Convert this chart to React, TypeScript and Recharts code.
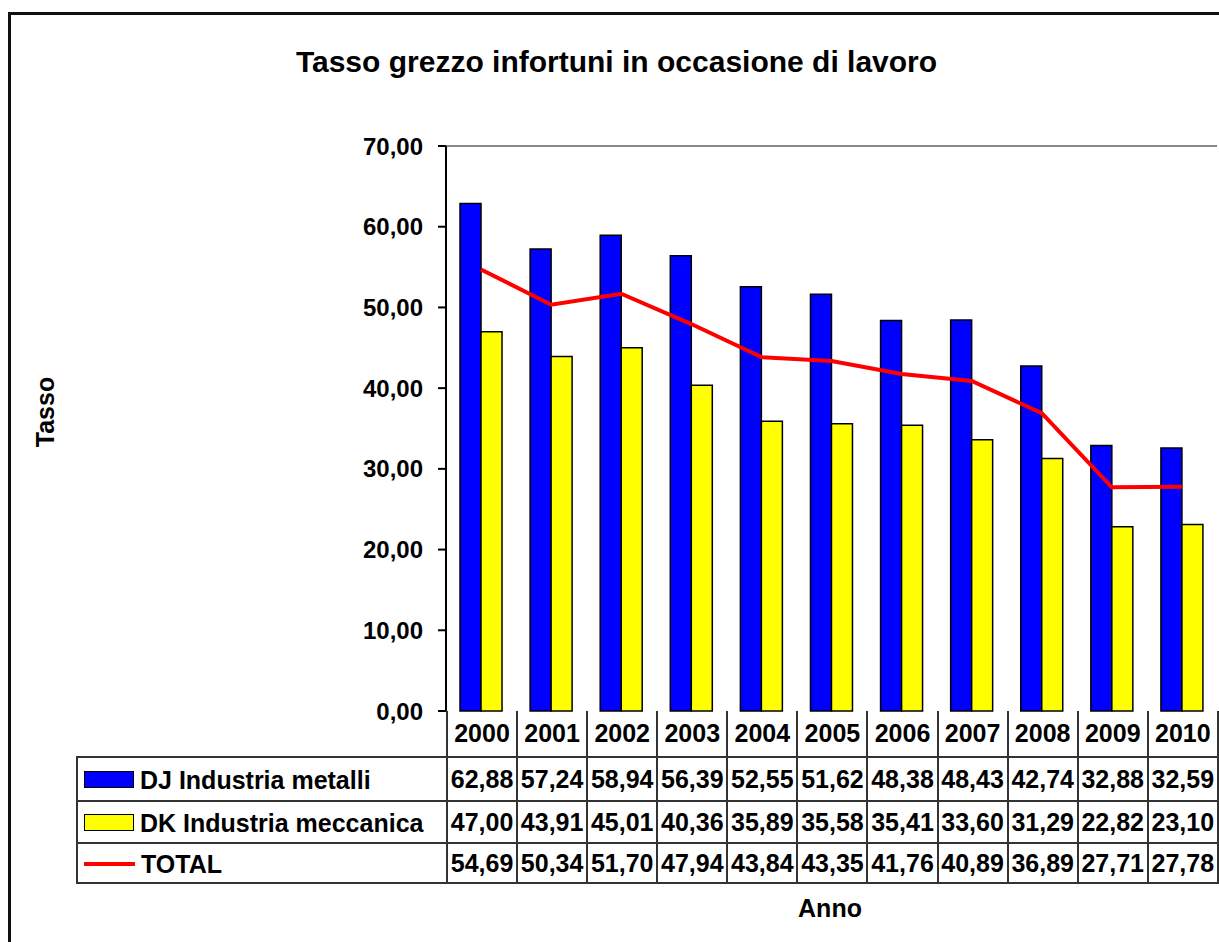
import React, { useLayoutEffect } from 'react'
import {
  ComposedChart,
  Bar,
  Line,
  XAxis,
  YAxis,
  ReferenceLine,
} from 'recharts'

const years = ['2000', '2001', '2002', '2003', '2004', '2005', '2006', '2007', '2008', '2009', '2010']
const metalli = [62.88, 57.24, 58.94, 56.39, 52.55, 51.62, 48.38, 48.43, 42.74, 32.88, 32.59]
const meccanica = [47.0, 43.91, 45.01, 40.36, 35.89, 35.58, 35.41, 33.6, 31.29, 22.82, 23.1]
const total = [54.69, 50.34, 51.7, 47.94, 43.84, 43.35, 41.76, 40.89, 36.89, 27.71, 27.78]
const yTicks = [0, 10, 20, 30, 40, 50, 60, 70]

const seriesNames = {
  metalli: 'DJ Industria metalli',
  meccanica: 'DK Industria meccanica',
  total: 'TOTAL',
}

const data = years.map((y, i) => ({
  year: y,
  metalli: metalli[i],
  meccanica: meccanica[i],
  total: total[i],
}))

const fmt = (v: number) => v.toFixed(2).replace('.', ',')

const FONT = '"Liberation Sans", Arial, sans-serif'
const W = 1211
const H = 934
const PLOT_LEFT = 438
const PLOT_RIGHT = 1209
const PLOT_TOP = 138
const PLOT_BOTTOM = 703
const COL = (PLOT_RIGHT - PLOT_LEFT) / years.length
const LEGEND_LEFT = 68
const LINE = '2px solid #333'

const cellStyle: React.CSSProperties = {
  border: LINE,
  padding: 0,
  textAlign: 'center',
  whiteSpace: 'nowrap',
  overflow: 'hidden',
}

function Swatch({ kind }: { kind: string }) {
  if (kind === 'total') {
    return (
      <span
        style={{
          display: 'inline-block',
          width: 51,
          height: 4,
          background: '#ff0000',
          verticalAlign: 'middle',
          marginRight: 6,
        }}
      />
    )
  }
  return (
    <span
      style={{
        display: 'inline-block',
        width: 48,
        height: 15,
        background: kind === 'metalli' ? '#0000ff' : '#ffff00',
        border: '1.5px solid #000',
        verticalAlign: 'middle',
        marginRight: 6,
      }}
    />
  )
}

export default function App() {
  // body margin moved onto the wrapper so the chart can use the full window width
  useLayoutEffect(() => {
    document.body.style.margin = '0'
  }, [])

  const rows = [
    { key: 'metalli', values: metalli, h: 44 },
    { key: 'meccanica', values: meccanica, h: 42 },
    { key: 'total', values: total, h: 40 },
  ]
  return (
    <div style={{ width: W + 8, height: H + 8, paddingTop: 8, paddingLeft: 8, boxSizing: 'border-box' }}>
      <div
        style={{
          position: 'relative',
          width: W,
          height: H,
          overflow: 'hidden',
          fontFamily: FONT,
          color: '#000',
        }}
      >
        <div
          style={{
            position: 'absolute',
            left: 0,
            top: 4,
            width: W,
            height: H - 4,
            borderLeft: '3px solid #111',
            borderTop: '3px solid #111',
            boxSizing: 'border-box',
          }}
        />
        <div
          style={{
            position: 'absolute',
            left: 6,
            top: 39,
            width: W - 6,
            textAlign: 'center',
            fontSize: 30,
            fontWeight: 'bold',
            lineHeight: 1,
            whiteSpace: 'nowrap',
          }}
        >
          Tasso grezzo infortuni in occasione di lavoro
        </div>
        <div
          style={{
            position: 'absolute',
            left: 37,
            top: 404,
            transform: 'translate(-50%, -50%) rotate(-90deg)',
            fontSize: 25,
            fontWeight: 'bold',
            lineHeight: 1,
            whiteSpace: 'nowrap',
          }}
        >
          Tasso
        </div>
        <div
          style={{
            position: 'absolute',
            left: 822,
            top: 900,
            transform: 'translate(-50%, -50%)',
            fontSize: 25,
            fontWeight: 'bold',
            lineHeight: 1,
            whiteSpace: 'nowrap',
          }}
        >
          Anno
        </div>

        <div style={{ position: 'absolute', left: 0, top: 0 }}>
          <ComposedChart
            width={W}
            height={H}
            data={data}
            margin={{ top: PLOT_TOP, right: W - PLOT_RIGHT, bottom: H - PLOT_BOTTOM, left: 0 }}
            barCategoryGap="20%"
            barGap={0}
          >
            <XAxis
              dataKey="year"
              height={0}
              tick={false}
              tickLine={false}
              axisLine={{ stroke: '#000', strokeWidth: 2 }}
            />
            <YAxis
              width={PLOT_LEFT}
              domain={[0, 70]}
              ticks={yTicks}
              tickFormatter={fmt}
              tickSize={8}
              tickMargin={15}
              axisLine={{ stroke: '#000', strokeWidth: 2 }}
              tickLine={{ stroke: '#000', strokeWidth: 2 }}
              tick={{ fill: '#000', fontSize: 24, fontWeight: 'bold', fontFamily: FONT }}
            />
            <YAxis
              yAxisId="right"
              orientation="right"
              width={0}
              tick={false}
              tickLine={false}
              axisLine={{ stroke: '#888', strokeWidth: 2 }}
            />
            <ReferenceLine y={70} stroke="#888" strokeWidth={2} />
            <Bar
              dataKey="metalli"
              name={seriesNames.metalli}
              fill="#0000ff"
              stroke="#000"
              strokeWidth={1.5}
              isAnimationActive={false}
            />
            <Bar
              dataKey="meccanica"
              name={seriesNames.meccanica}
              fill="#ffff00"
              stroke="#000"
              strokeWidth={1.5}
              isAnimationActive={false}
            />
            <Line
              type="linear"
              dataKey="total"
              name={seriesNames.total}
              stroke="#ff0000"
              strokeWidth={4}
              dot={false}
              isAnimationActive={false}
            />
          </ComposedChart>
        </div>

        <table
          style={{
            position: 'absolute',
            left: LEGEND_LEFT,
            top: PLOT_BOTTOM,
            width: PLOT_RIGHT - LEGEND_LEFT,
            borderCollapse: 'collapse',
            tableLayout: 'fixed',
            fontSize: 25,
            fontWeight: 'bold',
            fontFamily: FONT,
          }}
        >
          <colgroup>
            <col style={{ width: PLOT_LEFT - LEGEND_LEFT }} />
            {years.map((y) => (
              <col key={y} style={{ width: COL }} />
            ))}
          </colgroup>
          <tbody>
            <tr style={{ height: 46 }}>
              <td style={{ padding: 0, border: 'none', borderRight: LINE }} />
              {years.map((y) => (
                <td key={y} style={{ ...cellStyle, borderTop: 'none' }}>
                  {y}
                </td>
              ))}
            </tr>
            {rows.map((r) => (
              <tr key={r.key} style={{ height: r.h }}>
                <td style={{ ...cellStyle, textAlign: 'left', paddingLeft: 6 }}>
                  <Swatch kind={r.key} />
                  <span style={{ verticalAlign: 'middle' }}>
                    {seriesNames[r.key as keyof typeof seriesNames]}
                  </span>
                </td>
                {r.values.map((v, i) => (
                  <td key={i} style={cellStyle}>
                    {fmt(v)}
                  </td>
                ))}
              </tr>
            ))}
          </tbody>
        </table>
      </div>
    </div>
  )
}
